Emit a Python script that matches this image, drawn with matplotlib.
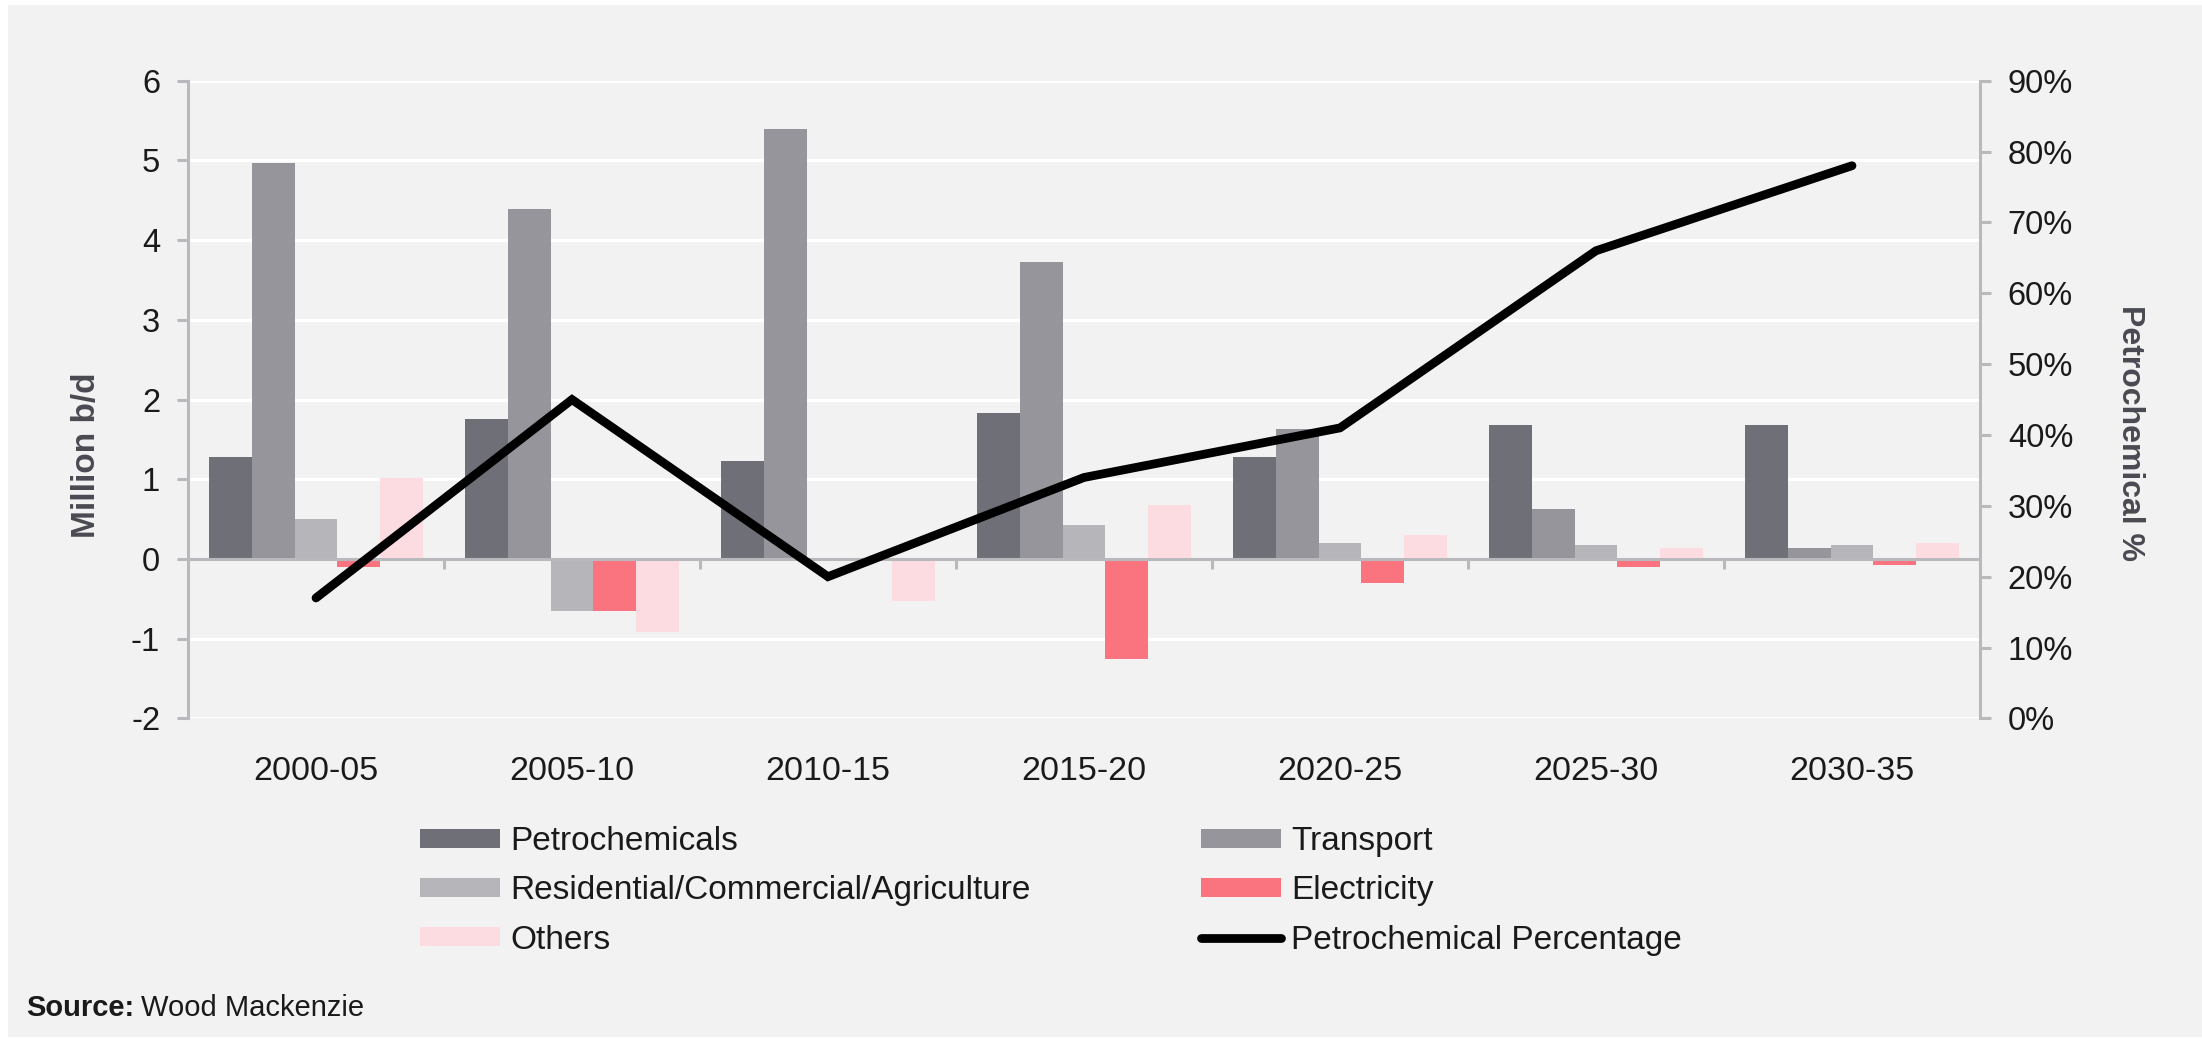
import matplotlib.pyplot as plt
import numpy as np
from matplotlib.lines import Line2D
from matplotlib.patches import Patch, Rectangle

# Daten (Million b/d, Nachfragezuwachs je Zeitraum)
periods = ["2000-05", "2005-10", "2010-15", "2015-20", "2020-25", "2025-30", "2030-35"]
petrochemicals = [1.28, 1.75, 1.23, 1.83, 1.28, 1.68, 1.68]
transport = [4.97, 4.39, 5.40, 3.72, 1.63, 0.63, 0.14]
residential = [0.50, -0.65, 0.0, 0.42, 0.20, 0.17, 0.17]
electricity = [-0.10, -0.65, 0.0, -1.26, -0.30, -0.10, -0.07]
others = [1.02, -0.92, -0.53, 0.68, 0.30, 0.14, 0.20]
petchem_pct = [17, 45, 20, 34, 41, 66, 78]

series = [
    ("Petrochemicals", petrochemicals, "#6f6f78"),
    ("Transport", transport, "#96959b"),
    ("Residential/Commercial/Agriculture", residential, "#b6b5ba"),
    ("Electricity", electricity, "#fa7480"),
    ("Others", others, "#fddce1"),
]

W, H = 2202, 1039
bg = "#f2f2f2"
axis_grey = "#b9b9bd"
label_col = "#4a4a52"
plt.rcParams['font.family'] = ['Liberation Sans', 'DejaVu Sans']
plt.rcParams['axes.unicode_minus'] = False

fig = plt.figure(figsize=(W / 100, H / 100), dpi=100, facecolor="white")
fig.patches.append(Rectangle((8 / W, 1 - 1037 / H), 1 - 8 / W, (1037 - 5) / H,
                             transform=fig.transFigure, facecolor=bg, edgecolor="none", zorder=-10))

ax = fig.add_axes([188 / W, 1 - 718.4 / H, (1980 - 188) / W, (718.4 - 80.7) / H])
ax.set_facecolor(bg)

x = np.arange(len(periods))
bw = 1 / 6
for i, (name, vals, col) in enumerate(series):
    ax.bar(x + (i - 2) * bw, vals, width=bw, color=col, zorder=3)

ax.set_xlim(-0.5, len(periods) - 0.5)
ax.set_ylim(-2, 6)
ax.set_yticks(range(-2, 7))
ax.grid(axis="y", color="white", linewidth=2.2, zorder=1)
ax.set_axisbelow(True)

# Nulllinie mit kleinen Trennstrichen zwischen den Gruppen
ax.axhline(0, color=axis_grey, linewidth=2.2, zorder=4)
ax.vlines(np.arange(len(periods) + 1) - 0.5, -0.13, 0, color=axis_grey, linewidth=2.2, zorder=4)

for s in ["top", "bottom", "right"]:
    ax.spines[s].set_visible(False)
ax.spines["left"].set_color(axis_grey)
ax.spines["left"].set_linewidth(2.2)

ax.set_xticks(x)
ax.set_xticklabels(periods)
ax.tick_params(axis="x", length=0, pad=27, labelsize=24.5, labelcolor="#1a1a1a")
ax.tick_params(axis="y", direction="out", length=8, width=2.2, color=axis_grey,
               pad=12, labelsize=23.5, labelcolor="#1a1a1a")

ax2 = ax.twinx()
ax2.plot(x, petchem_pct, color="black", linewidth=6.3, solid_capstyle="round",
         solid_joinstyle="miter", zorder=5)
ax2.set_ylim(0, 90)
ax2.set_yticks(range(0, 91, 10))
ax2.set_yticklabels([f"{v}%" for v in range(0, 91, 10)])
for s in ["top", "bottom", "left"]:
    ax2.spines[s].set_visible(False)
ax2.spines["right"].set_color(axis_grey)
ax2.spines["right"].set_linewidth(2.2)
ax2.tick_params(axis="y", direction="out", length=8, width=2.2, color=axis_grey,
                pad=12, labelsize=23.5, labelcolor="#1a1a1a")

fig.text(87 / W, 1 - 455 / H, "Million b/d", rotation=90, ha="center", va="center",
         fontsize=24, fontweight="bold", color=label_col)
fig.text(2130 / W, 1 - 433 / H, "Petrochemical %", rotation=270, ha="center", va="center",
         fontsize=23, fontweight="bold", color=label_col)

# Legende in zwei Spalten
handles = [Patch(facecolor=c, edgecolor="none", label=n) for n, _, c in series]
handles.append(Line2D([], [], color="black", linewidth=6.3, solid_capstyle="round",
                      label="Petrochemical Percentage"))
leg_kw = dict(loc="upper left", frameon=False, fontsize=24, borderpad=0, borderaxespad=0,
              handlelength=2.4, handleheight=0.5, handletextpad=0.3, labelspacing=0.55)
leg1 = fig.legend(handles=[handles[0], handles[2], handles[4]],
                  bbox_to_anchor=(420 / W, 1 - 826 / H), **leg_kw)
leg2 = fig.legend(handles=[handles[1], handles[3], handles[5]],
                  bbox_to_anchor=(1201 / W, 1 - 826 / H), **leg_kw)
for leg in (leg1, leg2):
    for t in leg.get_texts():
        t.set_color("#1a1a1a")

src = fig.text(26 / W, 1 - 1008 / H, "Source:", fontsize=21, fontweight="bold",
               va="center", ha="left", color="#1a1a1a")
fig.canvas.draw()
bb = src.get_window_extent()
fig.text((bb.x1 + 7) / W, 1 - 1008 / H, "Wood Mackenzie", fontsize=21,
         va="center", ha="left", color="#1a1a1a")

fig.savefig("out.png", dpi=100, facecolor="white")
